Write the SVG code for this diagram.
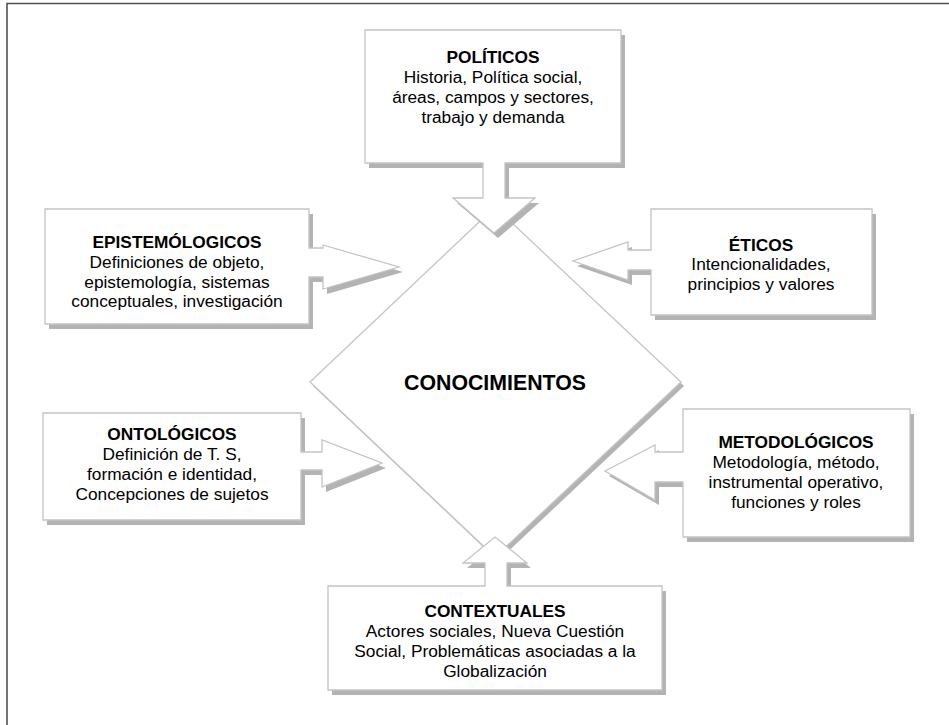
<svg xmlns="http://www.w3.org/2000/svg" width="949" height="725" viewBox="0 0 949 725">
<style>
.shadow{fill:#b3b3b3;stroke:none}
.shape{fill:#ffffff;stroke:#c4c4c4;stroke-width:1.3;stroke-linejoin:miter}
.frame{fill:none;stroke:#505050;stroke-width:1.6}
text{font-family:"Liberation Sans",Arial,sans-serif;font-size:17.3px;fill:#000;text-anchor:middle}
.t{font-weight:bold}
.big{font-weight:bold;font-size:21.3px}
</style>
<rect width="949" height="725" fill="#ffffff"/>
<path class="frame" d="M7,725 V3.5 H949"/>

<g id="conocimientos">
<path class="shadow" transform="translate(3,4)" d="M495,207 L681,382 L495,557 L310,382 Z"/>
<path class="shape" d="M495,207 L681,382 L495,557 L310,382 Z"/>
<text class="big" x="495" y="390">CONOCIMIENTOS</text>
</g>

<g id="politicos">
<path class="shadow" transform="translate(4,5)" d="M365,30 H621 V163 H505 V198 H535 L494,233 L453,198 H483 V163 H365 Z"/>
<path class="shape" d="M365,30 H621 V163 H505 V198 H535 L494,233 L453,198 H483 V163 H365 Z"/>
<text class="t" x="493" y="63">POLÍTICOS</text>
<text x="493" y="83">Historia, Política social,</text>
<text x="493" y="103">áreas, campos y sectores,</text>
<text x="493" y="123">trabajo y demanda</text>
</g>

<g id="epistemologicos">
<path class="shadow" transform="translate(4,5)" d="M45,209 H309 V248 H323 V245 L399,267 L323,289 V277 H309 V324 H45 Z"/>
<path class="shape" d="M45,209 H309 V248 H323 V245 L399,267 L323,289 V277 H309 V324 H45 Z"/>
<text class="t" x="177" y="248">EPISTEMÓLOGICOS</text>
<text x="177" y="268">Definiciones de objeto,</text>
<text x="177" y="288">epistemología, sistemas</text>
<text x="177" y="307">conceptuales, investigación</text>
</g>

<g id="eticos">
<path class="shadow" transform="translate(4,5)" d="M651,209 H872 V315 H651 V270 H628 V280 L573,261 L628,242 V250 H651 Z"/>
<path class="shape" d="M651,209 H872 V315 H651 V270 H628 V280 L573,261 L628,242 V250 H651 Z"/>
<text class="t" x="761" y="251">ÉTICOS</text>
<text x="761" y="270">Intencionalidades,</text>
<text x="761" y="290">principios y valores</text>
</g>

<g id="ontologicos">
<path class="shadow" transform="translate(4,5)" d="M43,413 H301 V452 H322 V440 L382,463 L322,487 V470 H301 V520 H43 Z"/>
<path class="shape" d="M43,413 H301 V452 H322 V440 L382,463 L322,487 V470 H301 V520 H43 Z"/>
<text class="t" x="172" y="440">ONTOLÓGICOS</text>
<text x="172" y="460">Definición de T. S,</text>
<text x="172" y="480">formación e identidad,</text>
<text x="172" y="500">Concepciones de sujetos</text>
</g>

<g id="metodologicos">
<path class="shadow" transform="translate(4,5)" d="M683,409 H910 V537 H683 V482 H655 V500 L605,471 L655,445 V452 H683 Z"/>
<path class="shape" d="M683,409 H910 V537 H683 V482 H655 V500 L605,471 L655,445 V452 H683 Z"/>
<text class="t" x="796" y="448">METODOLÓGICOS</text>
<text x="796" y="468">Metodología, método,</text>
<text x="796" y="488">instrumental operativo,</text>
<text x="796" y="508">funciones y roles</text>
</g>

<g id="contextuales">
<path class="shadow" transform="translate(4,5)" d="M328,586 H485 V563 H463 L495,537 L527,563 H507 V586 H662 V690 H328 Z"/>
<path class="shape" d="M328,586 H485 V563 H463 L495,537 L527,563 H507 V586 H662 V690 H328 Z"/>
<text class="t" x="495" y="617">CONTEXTUALES</text>
<text x="495" y="637">Actores sociales, Nueva Cuestión</text>
<text x="495" y="657">Social, Problemáticas asociadas a la</text>
<text x="495" y="677">Globalización</text>
</g>
</svg>
